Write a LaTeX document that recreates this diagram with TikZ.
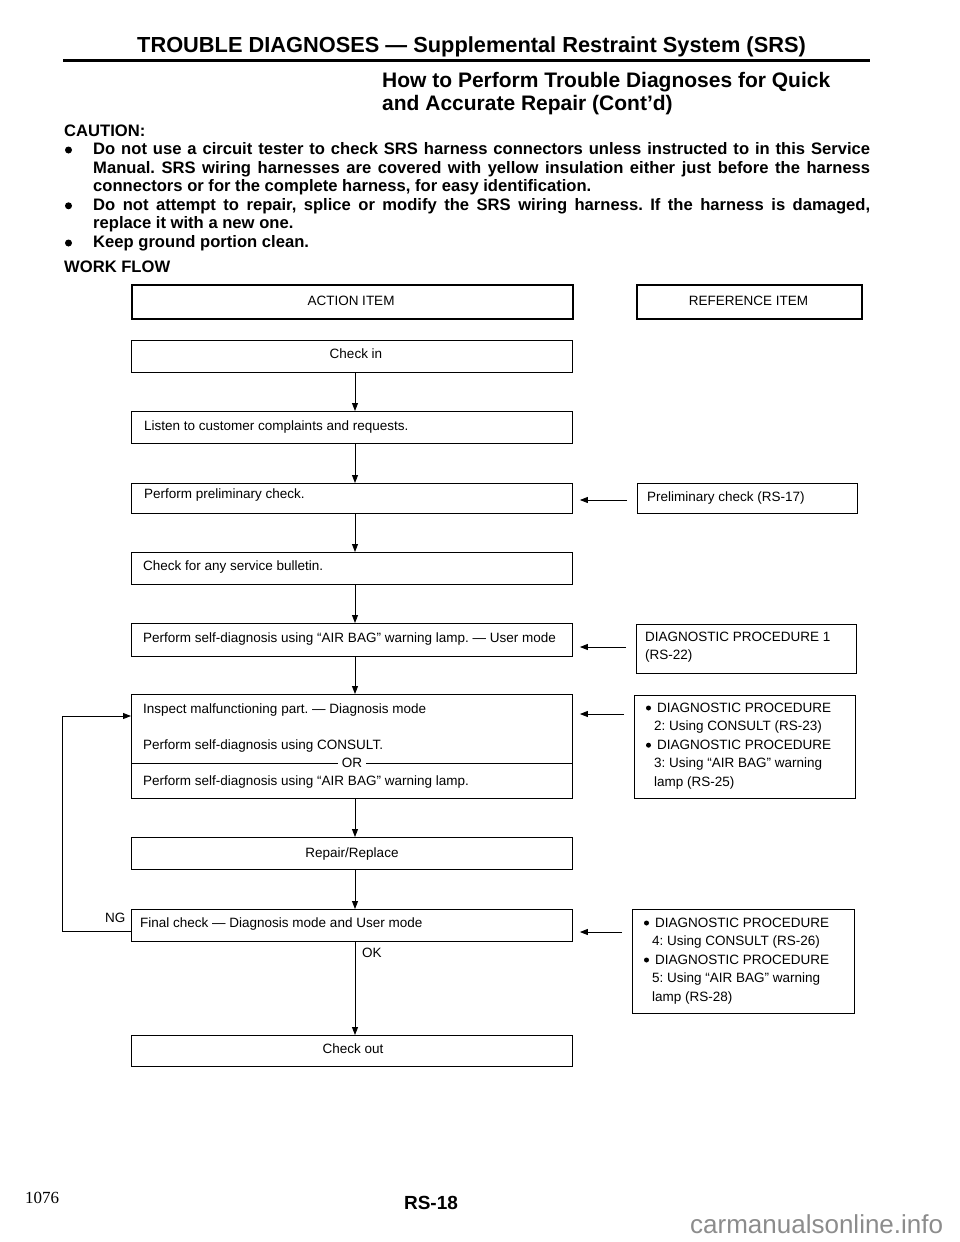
\documentclass[tikz,border=0pt]{standalone}
\usepackage{fontspec}
\setmainfont{Liberation Sans}
\newfontfamily\serifnum{Liberation Serif}
\usetikzlibrary{arrows.meta}
\newcommand\fsz[1]{\fontsize{#1}{#1}\selectfont}
\frenchspacing
\begin{document}
\begin{tikzpicture}[x=1pt,y=-1pt,
  box/.style={draw=black, line width=0.9pt, inner sep=0pt, anchor=north west},
  headbox/.style={box, line width=1.8pt},
  lt/.style={anchor=base west, inner sep=0pt, font=\fsz{13.5}},
  ct/.style={anchor=base, inner sep=0pt, font=\fsz{13.5}},
  cau/.style={anchor=base west, inner sep=0pt, font=\bfseries\fsz{16.6}},
  cbul/.style={circle, fill=black, inner sep=0pt, minimum size=7pt},
  rbul/.style={circle, fill=black, inner sep=0pt, minimum size=5pt},
  flow/.style={line width=0.9pt, -{Triangle[length=8pt,width=6pt]}},
  refarr/.style={flow, shorten <=10pt, shorten >=7pt},
]
\useasboundingbox (0,0) rectangle (960,1242);
\fill[white] (0,0) rectangle (960,1242);

% ---------- header ----------
\node[anchor=base west, inner sep=0pt, font=\bfseries\fsz{21.8}] (title) at (137,52) {TROUBLE DIAGNOSES — Supplemental Restraint System (SRS)};
\draw[line width=3pt] (63,60) -- (870,60);
\node[anchor=base west, inner sep=0pt, font=\bfseries\fsz{21}] (sub1) at (382,87) {How to Perform Trouble Diagnoses for Quick};
\node[anchor=base west, inner sep=0pt, font=\bfseries\fsz{21}] (sub2) at (382,110) {and Accurate Repair (Cont’d)};

% ---------- caution ----------
\node[cau] (caution) at (64,136.5) {CAUTION:};
\node[cbul] (bul1) at (68.5,150) {};
\node[cau] (cl1) at (93,154.5) {\makebox[777pt][s]{Do not use a circuit tester to check SRS harness connectors unless instructed to in this Service}};
\node[cau] (cl2) at (93,173.1) {\makebox[777pt][s]{Manual. SRS wiring harnesses are covered with yellow insulation either just before the harness}};
\node[cau] (cl3) at (93,191.7) {connectors or for the complete harness, for easy identification.};
\node[cbul] (bul2) at (68.5,205.8) {};
\node[cau] (cl4) at (93,210.3) {\makebox[777pt][s]{Do not attempt to repair, splice or modify the SRS wiring harness. If the harness is damaged,}};
\node[cau] (cl5) at (93,228.9) {replace it with a new one.};
\node[cbul] (bul3) at (68.5,243) {};
\node[cau] (cl6) at (93,247.5) {Keep ground portion clean.};

\node[cau] (workflow) at (64,272) {WORK FLOW};

% ---------- column headers ----------
\node[headbox, minimum width=441, minimum height=34] (action) at (131,284) {};
\node[ct] (actiont) at (351,305) {ACTION ITEM};
\node[headbox, minimum width=225, minimum height=34] (refitem) at (636,284) {};
\node[ct] (refitemt) at (748.5,305) {REFERENCE ITEM};

% ---------- action boxes ----------
\node[box, minimum width=441, minimum height=32] (checkin) at (131,340) {};
\node[ct] (checkint) at (356,358) {Check in};

\node[box, minimum width=441, minimum height=32] (listen) at (131,411) {};
\node[lt] (listent) at (144,430) {Listen to customer complaints and requests.};

\node[box, minimum width=441, minimum height=30] (prelim) at (131,483) {};
\node[lt] (prelimt) at (144,498) {Perform preliminary check.};

\node[box, minimum width=441, minimum height=32] (bulletin) at (131,552) {};
\node[lt] (bulletint) at (143,570) {Check for any service bulletin.};

\node[box, minimum width=441, minimum height=33] (selfdiag) at (131,623) {};
\node[lt] (selfdiagt) at (143,642) {Perform self-diagnosis using “AIR BAG” warning lamp. — User mode};

\node[box, minimum width=441, minimum height=104] (inspect) at (131,694) {};
\node[lt] (inspt1) at (143,713) {Inspect malfunctioning part. — Diagnosis mode};
\node[lt] (inspt2) at (143,749) {Perform self-diagnosis using CONSULT.};
\draw[line width=0.9pt] (inspect.west |- 0,763) -- (inspect.east |- 0,763);
\node[fill=white, inner xsep=4pt, inner ysep=1pt, font=\fsz{13.5}] (ortext) at (352,763) {OR};
\node[lt] (inspt3) at (143,785) {Perform self-diagnosis using “AIR BAG” warning lamp.};

\node[box, minimum width=441, minimum height=32] (repair) at (131,837) {};
\node[ct] (repairt) at (352,857) {Repair/Replace};

\node[box, minimum width=441, minimum height=32] (final) at (131,909) {};
\node[lt] (finalt) at (140,927) {Final check — Diagnosis mode and User mode};

\node[box, minimum width=441, minimum height=31] (checkout) at (131,1035) {};
\node[ct] (checkoutt) at (353,1053) {Check out};

% ---------- reference boxes ----------
\node[box, minimum width=220, minimum height=30] (prelimref) at (637,483) {};
\node[lt] (prelimreft) at (647,501) {Preliminary check (RS-17)};

\node[box, minimum width=220, minimum height=49] (diagone) at (636,624) {};
\node[lt] (diagonea) at (645,641) {DIAGNOSTIC PROCEDURE 1};
\node[lt] (diagoneb) at (645,659) {(RS-22)};

\node[box, minimum width=221, minimum height=103] (diagtt) at (634,695) {};
\node[rbul] (dtta) at (648.5,708) {};
\node[lt] (dttb) at (657,712) {DIAGNOSTIC PROCEDURE};
\node[lt] (dttc) at (654,730.6) {2: Using CONSULT (RS-23)};
\node[rbul] (dttd) at (648.5,745.2) {};
\node[lt] (dtte) at (657,749.2) {DIAGNOSTIC PROCEDURE};
\node[lt] (dttf) at (654,767.8) {3: Using “AIR BAG” warning};
\node[lt] (dttg) at (654,786.4) {lamp (RS-25)};

\node[box, minimum width=222, minimum height=104] (diagff) at (632,909) {};
\node[rbul] (dffa) at (646.5,923) {};
\node[lt] (dffb) at (655,927) {DIAGNOSTIC PROCEDURE};
\node[lt] (dffc) at (652,945.5) {4: Using CONSULT (RS-26)};
\node[rbul] (dffd) at (646.5,960) {};
\node[lt] (dffe) at (655,964) {DIAGNOSTIC PROCEDURE};
\node[lt] (dfff) at (652,982.5) {5: Using “AIR BAG” warning};
\node[lt] (dffg) at (652,1001) {lamp (RS-28)};

% ---------- connectors ----------
\coordinate (ax) at (355,0);
\draw[flow] (checkin.south -| ax) -- (listen.north -| ax);
\draw[flow] (listen.south -| ax) -- (prelim.north -| ax);
\draw[flow] (prelim.south -| ax) -- (bulletin.north -| ax);
\draw[flow] (bulletin.south -| ax) -- (selfdiag.north -| ax);
\draw[flow] (selfdiag.south -| ax) -- (inspect.north -| ax);
\draw[flow] (inspect.south -| ax) -- (repair.north -| ax);
\draw[flow] (repair.south -| ax) -- (final.north -| ax);
\draw[flow] (final.south -| ax) -- (checkout.north -| ax);
\node[lt] (oklabel) at (362,957) {OK};

\coordinate (ra) at (0,500);
\coordinate (rb) at (0,647);
\coordinate (rc) at (0,714);
\coordinate (rd) at (0,932);
\draw[refarr] (prelimref.west |- ra) -- (prelim.east |- ra);
\draw[refarr] (diagone.west |- rb) -- (selfdiag.east |- rb);
\draw[refarr] (diagtt.west |- rc) -- (inspect.east |- rc);
\draw[refarr] (diagff.west |- rd) -- (final.east |- rd);

\coordinate (ngb) at (62,931);
\coordinate (ngt) at (62,716);
\draw[flow] (final.west |- ngb) -- (ngb) -- (ngt) -- (inspect.west |- ngt);
\node[lt] (nglabel) at (105,922) {NG};

% ---------- footer ----------
\node[anchor=base west, inner sep=0pt, font=\serifnum\fsz{17}] (pagenum) at (25,1203) {1076};
\node[anchor=base, inner sep=0pt, font=\bfseries\fsz{19}] (rsnum) at (431,1209) {RS-18};
\node[anchor=base west, inner sep=0pt, font=\fsz{26}, text=black!45] (wmark) at (690,1233) {carmanualsonline.info};
\end{tikzpicture}
\end{document}
